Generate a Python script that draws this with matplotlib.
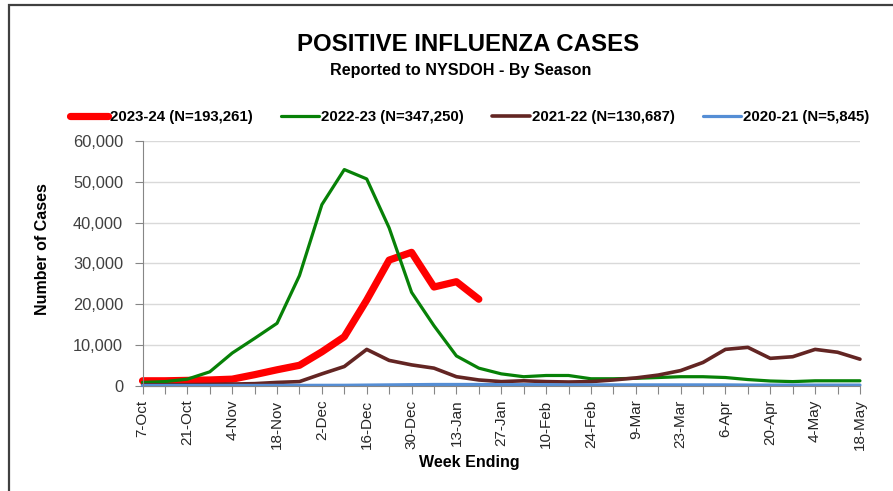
import numpy as np
import matplotlib
matplotlib.use('Agg')
import matplotlib.pyplot as plt
from matplotlib.patches import Rectangle
from matplotlib.ticker import StrMethodFormatter

plt.rcParams['font.family'] = ['Liberation Sans', 'DejaVu Sans']

# week ending dates, 7-Oct .. 18-May
weeks = ['7-Oct', '14-Oct', '21-Oct', '28-Oct', '4-Nov', '11-Nov', '18-Nov', '25-Nov',
         '2-Dec', '9-Dec', '16-Dec', '23-Dec', '30-Dec', '6-Jan', '13-Jan', '20-Jan',
         '27-Jan', '3-Feb', '10-Feb', '17-Feb', '24-Feb', '2-Mar', '9-Mar', '16-Mar',
         '23-Mar', '30-Mar', '6-Apr', '13-Apr', '20-Apr', '27-Apr', '4-May', '11-May', '18-May']

s2324 = [1200, 1200, 1300, 1400, 1600, 2700, 3900, 5000, 8300, 12000, 21000, 30800,
         32700, 24200, 25500, 21200]
s2223 = [800, 1000, 1600, 3400, 8000, 11600, 15300, 27000, 44400, 53000, 50700, 38700,
         22900, 14700, 7300, 4300, 2900, 2200, 2500, 2500, 1700, 1700, 1800, 2000,
         2200, 2200, 2000, 1500, 1150, 1000, 1200, 1200, 1200]
s2122 = [200, 200, 250, 300, 400, 500, 800, 1000, 2900, 4700, 8900, 6200,
         5100, 4300, 2200, 1400, 1000, 1200, 1000, 900, 1000, 1400, 1900, 2600,
         3700, 5700, 8900, 9400, 6700, 7100, 8900, 8200, 6500]
s2021 = [50, 50, 50, 50, 60, 60, 70, 80, 90, 100, 150, 200, 250, 300, 300, 300,
         250, 250, 250, 200, 200, 200, 200, 200, 200, 200, 200, 150, 150, 150, 150, 150, 150]

labels = ['2023-24 (N=193,261)', '2022-23 (N=347,250)', '2021-22 (N=130,687)', '2020-21 (N=5,845)']
colors = ['#ff0000', '#078107', '#632523', '#558ed5']
widths = [5.2, 2.3, 2.6, 2.3]

fig = plt.figure(figsize=(8.93, 4.91), dpi=100)
ax = fig.add_axes([0.1596, 0.2145, 0.8034, 0.4983])

x = np.arange(len(weeks))
series = [s2324, s2223, s2122, s2021]
lines = []
for s, c, w, lab in zip(series, colors, widths, labels):
    ln, = ax.plot(x[:len(s)], s, color=c, lw=w, label=lab,
                  solid_joinstyle='round', solid_capstyle='round', clip_on=False)
    lines.append(ln)

ax.set_xlim(0, len(weeks) - 1)
ax.set_ylim(0, 60000)
ax.set_yticks(np.arange(0, 60001, 10000))
ax.yaxis.set_major_formatter(StrMethodFormatter('{x:,.0f}'))
ax.set_xticks(x)
ax.set_xticklabels([w if i % 2 == 0 else '' for i, w in enumerate(weeks)], rotation=90)

ax.grid(axis='y', color='#d9d9d9', lw=1)
ax.set_axisbelow(True)
for sp in ['top', 'right']:
    ax.spines[sp].set_visible(False)
ax.spines['left'].set_color('#868686')
ax.spines['bottom'].set_color('#868686')
ax.tick_params(axis='y', direction='out', length=6, color='#868686', labelsize=11.8,
               labelcolor='#404040', pad=8)
ax.tick_params(axis='x', direction='out', length=6, color='#868686', labelsize=11,
               labelcolor='#262626', pad=4)

ax.set_ylabel('Number of Cases', fontsize=11.5, fontweight='bold')
ax.yaxis.set_label_coords(-0.129, 0.559)
ax.set_xlabel('Week Ending', fontsize=11.5, fontweight='bold')
ax.xaxis.set_label_coords(0.455, -0.283)

fig.text(0.5247, 0.8967, 'POSITIVE INFLUENZA CASES', ha='center', va='baseline',
         fontsize=17.3, fontweight='bold')
fig.text(0.5157, 0.847, 'Reported to NYSDOH - By Season', ha='center', va='baseline',
         fontsize=11.6, fontweight='bold')

fig.legend(handles=lines, loc='center', bbox_to_anchor=(0.526, 0.7607), ncol=4,
           frameon=False, prop={'weight': 'bold', 'size': 10.8},
           handlelength=2.5, handletextpad=0.15, columnspacing=1.9)

# chart border (cut off at right and bottom)
fig.add_artist(Rectangle((9 / 893, -0.05), 1.0, 1 - 5 / 491 + 0.05, transform=fig.transFigure,
                         fill=False, ec='#404040', lw=1.6))

fig.savefig('out.png', dpi=100)
